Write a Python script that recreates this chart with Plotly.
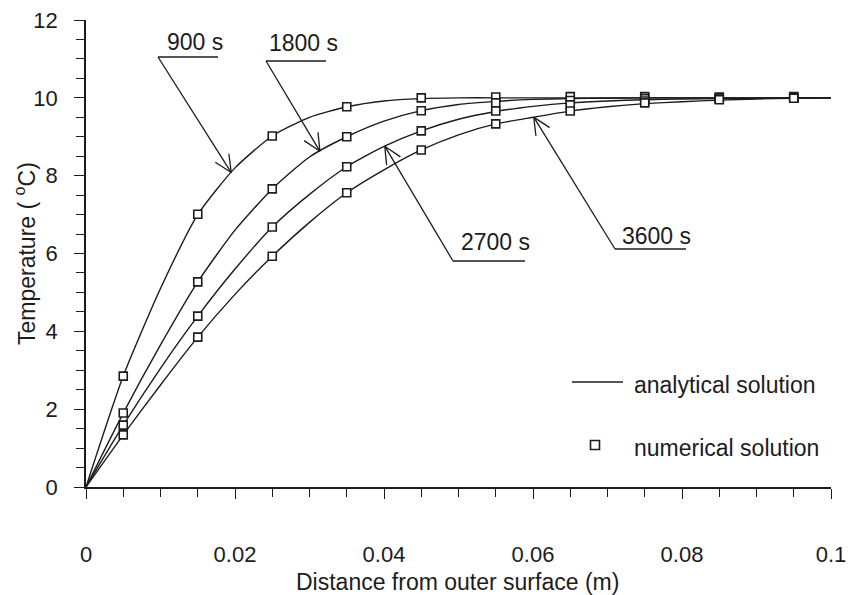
import numpy as np
import plotly.graph_objects as go

# ---- data -------------------------------------------------------------
# distance from the outer surface (m)
x_analytical = [0.0, 0.005, 0.01, 0.015, 0.02, 0.025, 0.03, 0.035, 0.04, 0.045,
                0.05, 0.055, 0.06, 0.065, 0.07, 0.075, 0.08, 0.085, 0.09, 0.095, 0.1]
x_numerical = [0.005, 0.015, 0.025, 0.035, 0.045, 0.055, 0.065, 0.075, 0.085, 0.095]

# analytical temperature profiles (deg C)
ana_900 = [0.0, 2.85, 5.1, 7.0, 8.2, 9.02, 9.5, 9.77, 9.92, 9.98,
           10.0, 10.0, 10.0, 10.0, 10.0, 10.0, 10.0, 10.0, 10.0, 10.0, 10.0]
ana_1800 = [0.0, 1.9, 3.65, 5.27, 6.6, 7.66, 8.48, 9.0, 9.4, 9.67,
            9.83, 9.91, 9.96, 9.98, 9.99, 10.0, 10.0, 10.0, 10.0, 10.0, 10.0]
ana_2700 = [0.0, 1.59, 3.05, 4.39, 5.6, 6.68, 7.52, 8.23, 8.75, 9.15,
            9.45, 9.65, 9.78, 9.87, 9.92, 9.95, 9.97, 9.98, 9.99, 10.0, 10.0]
ana_3600 = [0.0, 1.34, 2.62, 3.85, 4.95, 5.93, 6.8, 7.56, 8.15, 8.66,
            9.05, 9.33, 9.5, 9.66, 9.77, 9.85, 9.9, 9.94, 9.97, 9.99, 10.0]

# numerical (finite-difference) temperatures (deg C)
num_900 = [2.85, 7.01, 9.02, 9.77, 10.0, 10.02, 10.03, 10.03, 10.02, 10.03]
num_1800 = [1.90, 5.27, 7.66, 9.00, 9.67, 9.87, 9.93, 9.98, 10.0, 10.0]
num_2700 = [1.59, 4.39, 6.68, 8.23, 9.15, 9.66, 9.82, 9.92, 9.97, 10.0]
num_3600 = [1.34, 3.85, 5.93, 7.56, 8.66, 9.33, 9.66, 9.87, 9.95, 9.99]

time_labels = ["900 s", "1800 s", "2700 s", "3600 s"]
# distance at which each time label's arrow meets its curve
arrow_x = [0.0195, 0.0314, 0.0401, 0.0601]

x_ticks = [0, 0.02, 0.04, 0.06, 0.08, 0.1]
y_ticks = [0, 2, 4, 6, 8, 10, 12]

# ---- layout geometry --------------------------------------------------
W, H = 850, 595
ML, MR, MT, MB = 86, 19, 20, 108
PW, PH = W - ML - MR, H - MT - MB
X0, X1 = 0.0, 0.1
Y0, Y1 = 0.0, 12.0

INK = "#1c1c1c"
FONT = "Liberation Sans, Arial, sans-serif"
FS = 22      # tick labels
FS_TXT = 23  # titles, labels and legend text


def data_px(x, y):
    return ML + (x - X0) / (X1 - X0) * PW, MT + (Y1 - y) / (Y1 - Y0) * PH


def paper(px, py):
    return (px - ML) / PW, (MT + PH - py) / PH


fig = go.Figure()

analytical = [ana_900, ana_1800, ana_2700, ana_3600]
numerical = [num_900, num_1800, num_2700, num_3600]

for name, ys in zip(time_labels, analytical):
    fig.add_trace(go.Scatter(
        x=x_analytical, y=ys, mode="lines", name=name,
        line=dict(color=INK, width=1.4, shape="spline", smoothing=0.6),
        showlegend=False, hoverinfo="skip"))

for name, ys in zip(time_labels, numerical):
    fig.add_trace(go.Scatter(
        x=x_numerical, y=ys, mode="markers", name=name,
        marker=dict(symbol="square", size=8, color="white",
                    line=dict(color=INK, width=1.6)),
        showlegend=False, hoverinfo="skip"))

shapes = []
annotations = []


def seg(p0, p1, width=1.3):
    a = paper(*p0)
    b = paper(*p1)
    shapes.append(dict(type="line", xref="paper", yref="paper",
                       x0=a[0], y0=a[1], x1=b[0], y1=b[1],
                       line=dict(color=INK, width=width)))


# time labels: underlined text with a leader line ending in an open arrow
label_pos = [(195, 42), (303, 43), (495, 242), (656, 236)]
underline = [((158, 57), (218, 57)), ((266, 61), (326, 61)),
             ((453, 261), (525, 261)), ((615, 249), (686, 249))]

for text, (tx, ty), (u0, u1), ax_, ys in zip(time_labels, label_pos, underline,
                                               arrow_x, analytical):
    px, py = paper(tx, ty)
    annotations.append(dict(text=text, x=px, y=py, xref="paper", yref="paper",
                            showarrow=False, xanchor="center", yanchor="middle",
                            font=dict(family=FONT, size=FS_TXT, color=INK)))
    seg(u0, u1)
    tip = data_px(ax_, float(np.interp(ax_, x_analytical, ys)))
    seg(u0, tip)
    d = np.array(tip) - np.array(u0)
    d = d / np.linalg.norm(d)
    for ang in (np.radians(25), -np.radians(25)):
        c, s = np.cos(ang), np.sin(ang)
        back = np.array([-d[0] * c + d[1] * s, -d[0] * s - d[1] * c])
        end = np.array(tip) + 19 * back
        seg(tip, tuple(end))

# legend
seg((572, 382), (623, 382), width=1.3)
sq = 4.5
a = paper(595 - sq, 445 - sq)
b = paper(595 + sq, 445 + sq)
shapes.append(dict(type="rect", xref="paper", yref="paper",
                   x0=a[0], y0=a[1], x1=b[0], y1=b[1],
                   line=dict(color=INK, width=1.6), fillcolor="white"))
for text, (tx, ty) in [("analytical solution", (632, 385)),
                       ("numerical solution", (632, 448))]:
    px, py = paper(tx, ty)
    annotations.append(dict(text=text, x=px, y=py, xref="paper", yref="paper",
                            showarrow=False, xanchor="left", yanchor="middle",
                            font=dict(family=FONT, size=FS_TXT, color=INK)))

# axis titles
px, py = paper(457, 582)
annotations.append(dict(text="Distance from outer surface (m)", x=px, y=py,
                        xref="paper", yref="paper", showarrow=False,
                        xanchor="center", yanchor="middle",
                        font=dict(family=FONT, size=FS_TXT, color=INK)))
px, py = paper(25, 254)
annotations.append(dict(text="Temperature ( <sup>o</sup>C)", x=px, y=py,
                        xref="paper", yref="paper", showarrow=False,
                        textangle=-90, xanchor="center", yanchor="middle",
                        font=dict(family=FONT, size=FS_TXT, color=INK)))

axis_common = dict(showline=True, linecolor=INK, linewidth=1.5,
                   ticks="outside", ticklen=10, tickwidth=1.4, tickcolor=INK,
                   showgrid=False, zeroline=False, automargin=False,
                   tickfont=dict(family=FONT, size=FS, color=INK))

fig.update_xaxes(range=[X0, X1], tickvals=x_ticks,
                 ticktext=[f"{v:g}" for v in x_ticks],
                 minor=dict(dtick=0.005, tick0=0, ticks="outside", ticklen=8,
                            tickwidth=1.2, tickcolor=INK),
                 ticklabelstandoff=37, **axis_common)
fig.update_yaxes(range=[Y0, Y1], tickvals=y_ticks,
                 ticktext=[str(v) for v in y_ticks],
                 minor=dict(dtick=0.5, tick0=0, ticks="outside", ticklen=8,
                            tickwidth=1.2, tickcolor=INK),
                 ticklabelstandoff=12, **axis_common)

fig.update_layout(width=W, height=H,
                  margin=dict(l=ML, r=MR, t=MT, b=MB, autoexpand=False),
                  paper_bgcolor="white", plot_bgcolor="white",
                  shapes=shapes, annotations=annotations,
                  showlegend=False)

fig.write_html("out.html")
